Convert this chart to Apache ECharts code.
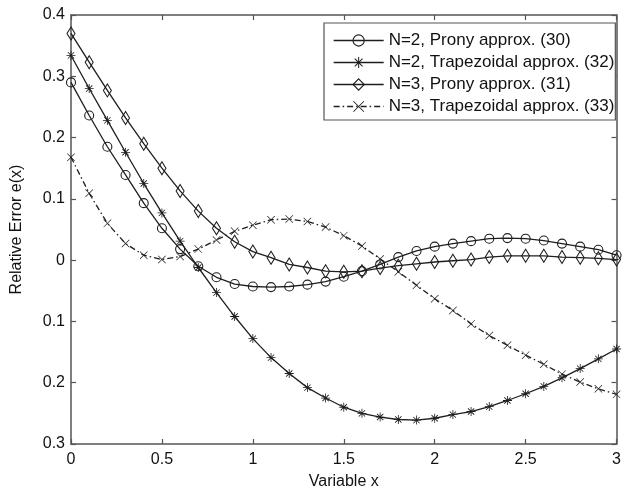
<!DOCTYPE html>
<html>
<head>
<meta charset="utf-8">
<script src="https://cdn.jsdelivr.net/npm/echarts@6/dist/echarts.min.js"></script>
<style>
  html, body { margin: 0; padding: 0; background: #fff; }
  #chart { width: 624px; height: 495px; }
</style>
</head>
<body>
<div id="chart"></div>
<script>
// Sample points of the variable x (step 0.1 from 0 to 3)
const xValues = [0.0, 0.1, 0.2, 0.3, 0.4, 0.5, 0.6, 0.7, 0.8, 0.9, 1.0,
                 1.1, 1.2, 1.3, 1.4, 1.5, 1.6, 1.7, 1.8, 1.9, 2.0,
                 2.1, 2.2, 2.3, 2.4, 2.5, 2.6, 2.7, 2.8, 2.9, 3.0];

// Relative error e(x) for each approximation
const pronyN2 = [0.290, 0.236, 0.185, 0.139, 0.093, 0.052, 0.018, -0.010, -0.028, -0.039, -0.043,
                 -0.044, -0.043, -0.040, -0.035, -0.027, -0.018, -0.007, 0.005, 0.015, 0.022,
                 0.027, 0.031, 0.035, 0.036, 0.035, 0.032, 0.027, 0.022, 0.017, 0.008];
const trapN2  = [0.334, 0.280, 0.228, 0.176, 0.125, 0.077, 0.031, -0.012, -0.053, -0.092, -0.128,
                 -0.159, -0.185, -0.208, -0.225, -0.240, -0.250, -0.256, -0.260, -0.261, -0.258,
                 -0.252, -0.247, -0.239, -0.229, -0.218, -0.206, -0.192, -0.177, -0.161, -0.145];
const pronyN3 = [0.370, 0.323, 0.277, 0.232, 0.190, 0.150, 0.113, 0.080, 0.052, 0.030, 0.014,
                 0.004, -0.007, -0.012, -0.018, -0.019, -0.018, -0.013, -0.009, -0.006, -0.003,
                 -0.001, 0.001, 0.005, 0.007, 0.007, 0.007, 0.005, 0.004, 0.003, 0.001];
const trapN3  = [0.168, 0.109, 0.060, 0.027, 0.008, 0.001, 0.006, 0.018, 0.033, 0.047, 0.057,
                 0.066, 0.067, 0.063, 0.054, 0.040, 0.023, 0.002, -0.019, -0.041, -0.063,
                 -0.082, -0.104, -0.123, -0.139, -0.155, -0.170, -0.186, -0.199, -0.210, -0.219];

const seriesNames = [
  'N=2, Prony approx. (30)',
  'N=2, Trapezoidal approx. (32)',
  'N=3, Prony approx. (31)',
  'N=3, Trapezoidal approx. (33)'
];

const xTicks = [0, 0.5, 1, 1.5, 2, 2.5, 3];
const yTicks = [0.4, 0.3, 0.2, 0.1, 0, -0.1, -0.2, -0.3];

// Marker shapes: asterisk (+ and x combined) and plain x
const asteriskPath = 'path://M4.55,0 H5.45 V10 H4.55 Z M0,4.55 H10 V5.45 H0 Z ' +
  'M1.2,1.85 L1.85,1.2 L8.8,8.15 L8.15,8.8 Z M8.15,1.2 L8.8,1.85 L1.85,8.8 L1.2,8.15 Z';
const crossPath = 'path://M0.6,0 L10,9.4 L9.4,10 L0,0.6 Z M9.4,0 L10,0.6 L0.6,10 L0,9.4 Z';

const ink = '#1e1e1e';
const frame = '#555';
const family = 'Liberation Sans, Arial, Helvetica, sans-serif';

function pairs(ys) { return xValues.map((x, i) => [x, ys[i]]); }

function makeSeries(name, ys, symbol, size, dash, filled) {
  return {
    name: name,
    type: 'line',
    data: pairs(ys),
    symbol: symbol,
    symbolSize: size,
    showSymbol: true,
    showAllSymbol: true,
    clip: false,
    animation: false,
    lineStyle: { color: ink, width: 1.3, type: dash },
    // open markers keep a see-through centre so the line shows through
    itemStyle: filled
      ? { color: ink, borderWidth: 0 }
      : { color: 'rgba(255,255,255,0)', borderColor: ink, borderWidth: 1.1 },
    emphasis: { disabled: true }
  };
}

const chart = echarts.init(document.getElementById('chart'), null, { renderer: 'canvas' });

const labelFont = { fontFamily: family, fontSize: 16, color: '#111' };
const sideTick = { show: true, inside: true, length: 5, lineStyle: { color: frame, width: 1.2 } };
const sideLine = { show: true, onZero: false, lineStyle: { color: frame, width: 1.5 } };

chart.setOption({
  backgroundColor: '#fff',
  animation: false,
  grid: { left: 71, right: 6, top: 15, bottom: 47, containLabel: false },
  legend: {
    orient: 'vertical',
    left: 324,
    top: 23,
    padding: [9, 1, 5, 9],
    itemGap: 5,
    itemWidth: 50,
    itemHeight: 14,
    backgroundColor: '#fff',
    borderColor: frame,
    borderWidth: 1.2,
    borderRadius: 0,
    selectedMode: false,
    itemStyle: { borderWidth: 1.1 },
    lineStyle: { width: 1.3 },
    textStyle: { fontFamily: family, fontSize: 17, color: '#111' },
    data: seriesNames
  },
  xAxis: [
    {
      type: 'value', min: 0, max: 3, interval: 0.5,
      name: 'Variable x', nameLocation: 'middle', nameGap: 30,
      nameTextStyle: labelFont,
      axisLine: sideLine,
      axisTick: sideTick,
      axisLabel: Object.assign({}, labelFont, {
        margin: 8,
        formatter: v => xTicks.indexOf(v) >= 0 ? String(v) : ''
      }),
      splitLine: { show: false }
    },
    {
      type: 'value', min: 0, max: 3, interval: 0.5, position: 'top',
      axisLine: sideLine,
      axisTick: sideTick,
      axisLabel: { show: false },
      splitLine: { show: false }
    }
  ],
  yAxis: [
    {
      type: 'value', min: -0.3, max: 0.4, interval: 0.1,
      name: 'Relative Error e(x)', nameLocation: 'middle', nameGap: 46,
      nameTextStyle: labelFont,
      axisLine: sideLine,
      axisTick: sideTick,
      axisLabel: Object.assign({}, labelFont, {
        margin: 6,
        // tick text printed as magnitudes
        formatter: v => {
          const r = Math.round(Math.abs(v) * 10) / 10;
          return r === 0 ? '0' : r.toFixed(1);
        }
      }),
      splitLine: { show: false }
    },
    {
      type: 'value', min: -0.3, max: 0.4, interval: 0.1, position: 'right',
      axisLine: sideLine,
      axisTick: sideTick,
      axisLabel: { show: false },
      splitLine: { show: false }
    }
  ],
  series: [
    makeSeries(seriesNames[0], pronyN2, 'circle', 9, 'solid', false),
    makeSeries(seriesNames[1], trapN2, asteriskPath, 9, 'solid', true),
    makeSeries(seriesNames[2], pronyN3, 'diamond', [8, 13], 'solid', false),
    makeSeries(seriesNames[3], trapN3, crossPath, 8, [6, 3, 1.5, 3], true)
  ]
});
</script>
</body>
</html>
